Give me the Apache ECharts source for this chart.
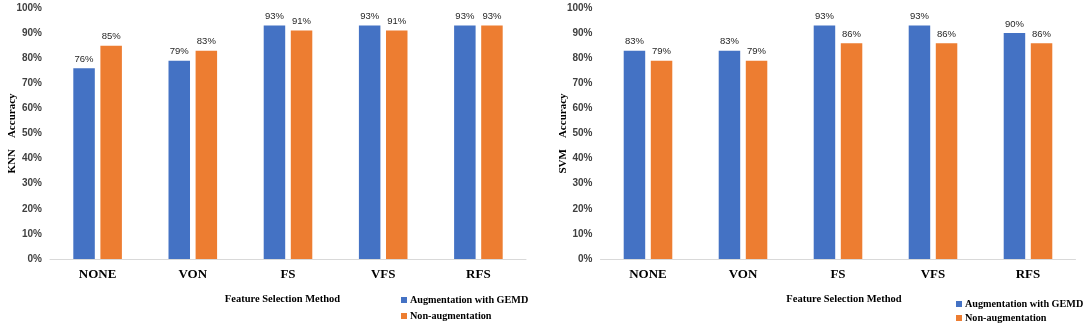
<!DOCTYPE html>
<html>
<head>
<meta charset="utf-8">
<script src="https://cdn.jsdelivr.net/npm/echarts@6/dist/echarts.min.js"></script>
<style>
  html, body { margin: 0; padding: 0; background: #fff; }
  #chart { width: 1084px; height: 325px; }
</style>
</head>
<body>
<div id="chart"></div>
<script>
const methods = ["NONE", "VON", "FS", "VFS", "RFS"];
const knnAug = [76, 79, 93, 93, 93];
const knnNonAug = [85, 83, 91, 91, 93];
const svmAug = [83, 83, 93, 93, 90];
const svmNonAug = [79, 79, 86, 86, 86];
const seriesNames = ["Augmentation with GEMD", "Non-augmentation"];

const BLUE = "#4472C4";
const ORANGE = "#ED7D31";
const serif = "'Liberation Serif', 'Times New Roman', serif";
const sans = "'Liberation Sans', Arial, sans-serif";

const chart = echarts.init(document.getElementById("chart"));

const makeXAxis = (gridIndex, namePad) => ({
  type: "category",
  gridIndex: gridIndex,
  data: methods,
  axisTick: { show: false },
  axisLine: { lineStyle: { color: "#d9d9d9", width: 1 } },
  axisLabel: {
    margin: 9,
    fontFamily: serif,
    fontWeight: "bold",
    fontSize: 13,
    color: "#000",
  },
  name: "Feature Selection Method",
  nameLocation: "middle",
  nameGap: 35,
  nameTextStyle: {
    fontFamily: serif,
    fontWeight: "bold",
    fontSize: 10.5,
    color: "#000",
    padding: namePad,
  },
});

const makeYAxis = (gridIndex, label) => ({
  type: "value",
  gridIndex: gridIndex,
  min: 0,
  max: 100,
  interval: 10,
  splitLine: { show: false },
  axisLine: { show: false },
  axisTick: { show: false },
  axisLabel: {
    margin: 8,
    formatter: "{value}%",
    fontFamily: sans,
    fontWeight: "bold",
    fontSize: 10,
    color: "#404040",
  },
  name: label,
  nameLocation: "middle",
  nameGap: 32,
  nameMoveOverlap: false,
  nameTextStyle: {
    fontFamily: serif,
    fontWeight: "bold",
    fontSize: 11,
    color: "#000",
  },
});

const makeBar = (name, data, color, axisIndex) => ({
  name: name,
  type: "bar",
  xAxisIndex: axisIndex,
  yAxisIndex: axisIndex,
  data: data,
  barWidth: 21.5,
  barGap: "26%",
  itemStyle: { color: color },
  label: {
    show: true,
    position: "top",
    distance: 4,
    formatter: (p) => Math.round(p.value) + "%",
    fontFamily: sans,
    fontSize: 9.5,
    color: "#262626",
  },
});

// one legend box per entry so the two rows can be placed exactly
const makeLegend = (name, left, top) => ({
  data: [name],
  orient: "vertical",
  left: left,
  top: top,
  padding: 0,
  itemWidth: 6,
  itemHeight: 6,
  itemGap: 3,
  icon: "rect",
  selectedMode: false,
  textStyle: {
    fontFamily: serif,
    fontWeight: "bold",
    fontSize: 10.2,
    color: "#000",
    padding: [0, 0, 0, -2],
  },
});

chart.setOption({
  animation: false,
  grid: [
    { left: 50, top: 8, width: 476, height: 251 },
    { left: 600.5, top: 8, width: 475, height: 251 },
  ],
  xAxis: [makeXAxis(0, [0, 11, 0, 0]), makeXAxis(1, [0, 0, 0, 12])],
  yAxis: [makeYAxis(0, "KNN    Accuracy"), makeYAxis(1, "SVM    Accuracy")],
  legend: [
    makeLegend(seriesNames[0], 401, 295),
    makeLegend(seriesNames[1], 401, 311),
    makeLegend(seriesNames[0], 956, 299),
    makeLegend(seriesNames[1], 956, 313),
  ],
  series: [
    makeBar(seriesNames[0], knnAug, BLUE, 0),
    makeBar(seriesNames[1], knnNonAug, ORANGE, 0),
    makeBar(seriesNames[0], svmAug, BLUE, 1),
    makeBar(seriesNames[1], svmNonAug, ORANGE, 1),
  ],
});
</script>
</body>
</html>
